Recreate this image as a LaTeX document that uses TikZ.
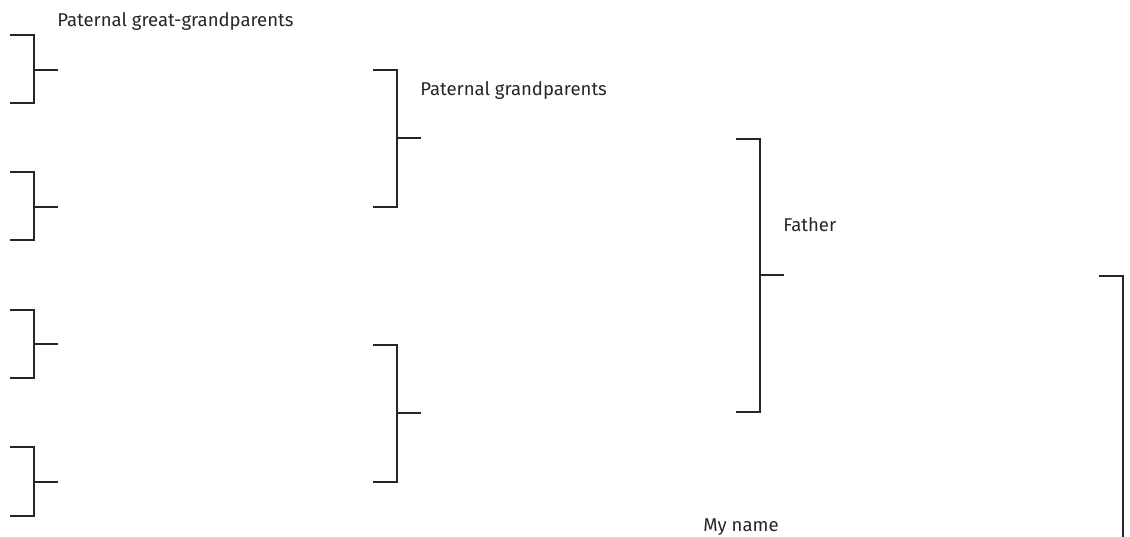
\documentclass[tikz,border=0pt]{standalone}
\usepackage{fontspec}
\setmainfont{Fira Sans}
\begin{document}
\begin{tikzpicture}[x=0.75pt,y=-0.75pt,
  bline/.style={line width=0.85pt,line cap=rect,draw=black!85},
  lbl/.style={anchor=base west,inner sep=0pt,text=black!85,font=\fontsize{13.9pt}{16pt}\selectfont}]
\useasboundingbox (0,0) rectangle (1130,536);
% level 0 brackets
\foreach \i/\t/\b/\m in {a/35/103/70,b/172/240/207,c/310/378/344,d/447/516/482}{
  \coordinate (g\i top) at (11,\t);
  \coordinate (g\i bot) at (11,\b);
  \coordinate (g\i out) at (57,\m);
  \draw[bline] (g\i top) -- (34,\t) -- (34,\b) -- (g\i bot);
  \draw[bline] (34,\m) -- (g\i out);
}
% level 1 brackets
\foreach \i/\t/\b/\m in {a/70/207/138,b/345/482/413}{
  \coordinate (p\i top) at (374,\t);
  \coordinate (p\i bot) at (374,\b);
  \coordinate (p\i out) at (420,\m);
  \draw[bline] (p\i top) -- (397,\t) -- (397,\b) -- (p\i bot);
  \draw[bline] (397,\m) -- (p\i out);
}
% level 2 bracket
\coordinate (ftop) at (737,139);
\coordinate (fbot) at (737,412);
\coordinate (fout) at (783,275);
\draw[bline] (ftop) -- (760,139) -- (760,412) -- (fbot);
\draw[bline] (760,275) -- (fout);
% level 3
\coordinate (mtop) at (1100,276);
\coordinate (mbot) at (1123,540);
\draw[bline] (mtop) -- (1123,276) -- (mbot);
% labels
\node[lbl] (ggp) at (57,26) {Paternal great-grandparents};
\node[lbl] (gp) at (420,95) {Paternal grandparents};
\node[lbl] (fa) at (783,231.5) {Father};
\node[lbl] (me) at (703,531.5) {My name};
\end{tikzpicture}
\end{document}
